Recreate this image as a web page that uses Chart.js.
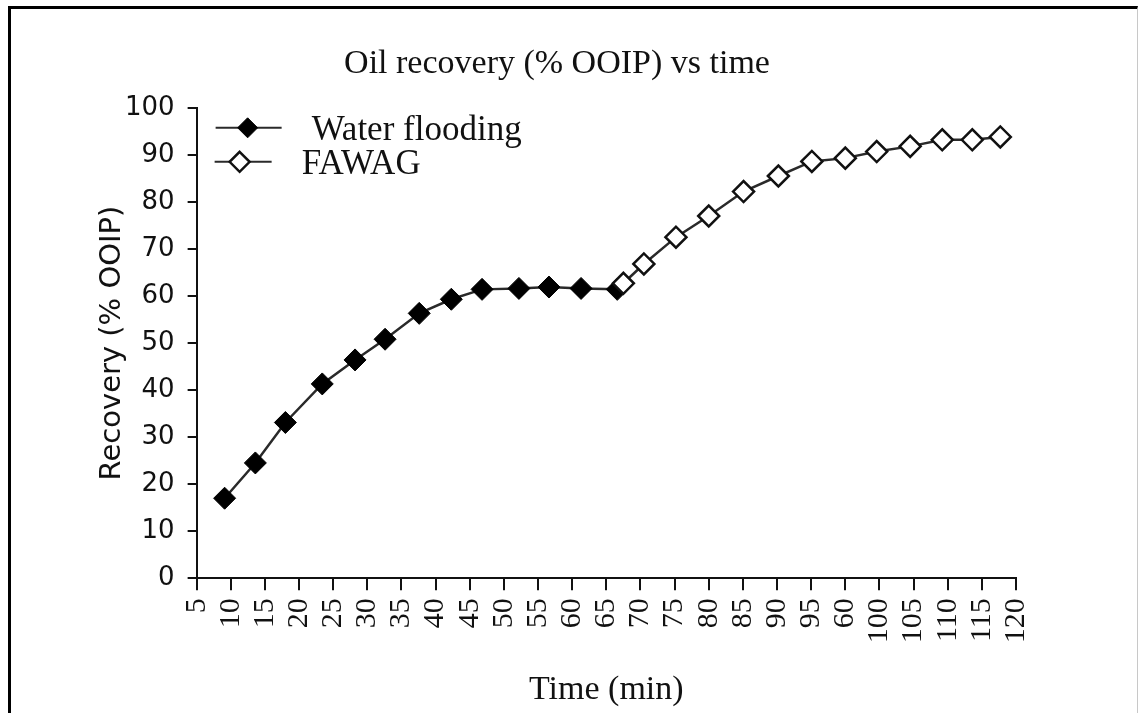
<!DOCTYPE html>
<html>
<head>
<meta charset="utf-8">
<title>Oil recovery vs time</title>
<script src="https://cdn.jsdelivr.net/npm/chart.js@4.4.0/dist/chart.umd.min.js"></script>
<style>
  html, body { margin: 0; padding: 0; background: #fff; }
  #wrap { position: relative; width: 1140px; height: 713px; overflow: hidden; }
  #frame {
    position: absolute; left: 8px; top: 6px; width: 1126px; height: 720px;
    border-left: 3px solid #000; border-top: 3px solid #000; border-right: 1px solid #c8c8c8;
    pointer-events: none;
  }
</style>
</head>
<body>
<div id="wrap">
  <canvas id="recoveryCanvas" width="1140" height="713"></canvas>
  <div id="frame"></div>
</div>
<script>
// tick labels as printed on the original x axis (note the stray "60")
const xTickLabels = ["5", "10", "15", "20", "25", "30", "35", "40", "45", "50", "55", "60", "65",
  "70", "75", "80", "85", "90", "95", "60", "100", "105", "110", "115", "120"];

// water flooding stage
const waterTime = [9.1, 13.6, 18.0, 23.4, 28.2, 32.6, 37.6, 42.3, 46.8, 52.2, 56.6, 61.3, 66.6];
const waterRecovery = [17.0, 24.5, 33.1, 41.3, 46.4, 50.8, 56.3, 59.3, 61.4, 61.6, 61.9, 61.6, 61.4];

// FAWAG stage
const fawagTime = [67.5, 70.5, 75.2, 80.0, 85.1, 90.2, 95.1, 100.0, 104.6, 109.5, 114.2, 118.6, 122.7];
const fawagRecovery = [62.7, 66.8, 72.5, 77.0, 82.2, 85.5, 88.6, 89.3, 90.7, 91.8, 93.2, 93.2, 93.8];

const serif = "'Liberation Serif', 'Times New Roman', serif";
const sans = "'DejaVu Sans', sans-serif";
const ink = "#111";

function toPoints(xs, ys) {
  return xs.map((x, i) => ({ x: x, y: ys[i] }));
}

function diamond(ctx, cx, cy, r) {
  ctx.beginPath();
  ctx.moveTo(cx, cy - r);
  ctx.lineTo(cx + r, cy);
  ctx.lineTo(cx, cy + r);
  ctx.lineTo(cx - r, cy);
  ctx.closePath();
}

// legend drawn inside the plot, line + marker like the original
const lineLegend = {
  id: "lineLegend",
  afterDraw(chart) {
    const ctx = chart.ctx;
    const area = chart.chartArea;
    const rows = [
      { x0: 19, x1: 85, mx: 51, y: 20, tx: 115 },
      { x0: 18, x1: 75, mx: 43, y: 54, tx: 105 }
    ];
    ctx.save();
    chart.data.datasets.forEach((ds, i) => {
      const r = rows[i];
      const y = area.top + r.y;
      ctx.strokeStyle = ds.borderColor;
      ctx.lineWidth = 2;
      ctx.beginPath();
      ctx.moveTo(area.left + r.x0, y);
      ctx.lineTo(area.left + r.x1, y);
      ctx.stroke();
      diamond(ctx, area.left + r.mx, y, 10);
      ctx.fillStyle = ds.pointBackgroundColor;
      ctx.fill();
      ctx.strokeStyle = ds.pointBorderColor;
      ctx.lineWidth = ds.pointBorderWidth;
      ctx.stroke();
      ctx.fillStyle = ink;
      ctx.font = "35px " + serif;
      ctx.textBaseline = "middle";
      ctx.textAlign = "left";
      ctx.fillText(ds.label, area.left + r.tx, y + 3);
    });
    ctx.restore();
  }
};

const chartConfig = {
  type: "line",
  data: {
    datasets: [
      {
        label: "Water flooding",
        data: toPoints(waterTime, waterRecovery),
        borderColor: "#2a2a2a",
        borderWidth: 2.5,
        pointStyle: "rectRot",
        pointRadius: 11,
        pointBackgroundColor: "#000",
        pointBorderColor: "#000",
        pointBorderWidth: 1,
        order: 1
      },
      {
        label: "FAWAG",
        data: toPoints(fawagTime, fawagRecovery),
        borderColor: "#2a2a2a",
        borderWidth: 2.5,
        pointStyle: "rectRot",
        pointRadius: 10.5,
        pointBackgroundColor: "#fff",
        pointBorderColor: "#111",
        pointBorderWidth: 2.5,
        order: 0
      }
    ]
  },
  options: {
    responsive: false,
    animation: false,
    layout: { padding: { left: 98, right: 124, top: 44, bottom: 3 } },
    plugins: {
      legend: { display: false },
      tooltip: { enabled: false },
      title: {
        display: true,
        text: "Oil recovery (% OOIP) vs time",
        color: ink,
        font: { family: serif, size: 34, weight: "normal" },
        padding: { top: 0, bottom: 23 }
      }
    },
    scales: {
      x: {
        type: "linear",
        min: 5,
        max: 125,
        ticks: {
          stepSize: 5,
          autoSkip: false,
          minRotation: 90,
          maxRotation: 90,
          padding: 8,
          color: ink,
          font: { family: serif, size: 30 },
          callback: (value, index) => xTickLabels[index]
        },
        grid: { drawOnChartArea: false, drawTicks: true, tickLength: 12, color: ink, lineWidth: 2 },
        border: { display: true, color: ink, width: 2 },
        title: {
          display: true,
          text: "Time (min)",
          color: ink,
          font: { family: serif, size: 34, weight: "normal" },
          padding: { top: 18, bottom: 0 }
        }
      },
      y: {
        min: 0,
        max: 100,
        ticks: { stepSize: 10, padding: 13, color: ink, font: { family: sans, size: 26 } },
        grid: { drawOnChartArea: false, drawTicks: true, tickLength: 9, color: ink, lineWidth: 2 },
        border: { display: true, color: ink, width: 2 },
        title: {
          display: true,
          text: "Recovery (% OOIP)",
          color: ink,
          font: { family: sans, size: 29, weight: "normal", lineHeight: 1 },
          padding: { top: 0, bottom: -15 }
        }
      }
    }
  },
  plugins: [lineLegend]
};

const canvasContext = document.getElementById("recoveryCanvas").getContext("2d");
window.chart = new Chart(canvasContext, chartConfig);
</script>
</body>
</html>
